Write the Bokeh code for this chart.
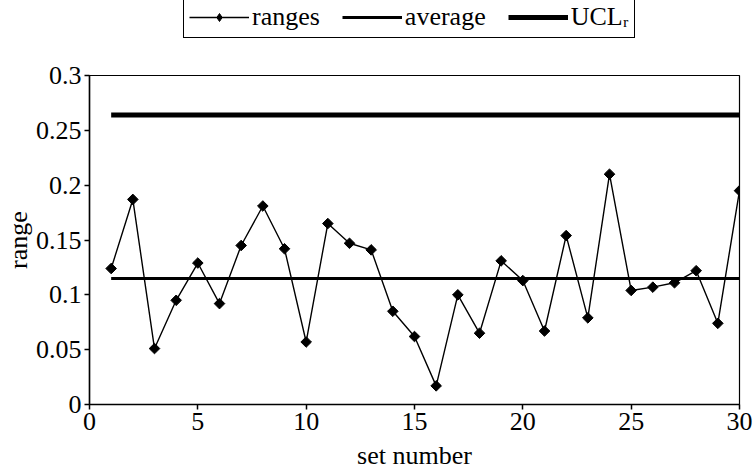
import math
from bokeh.plotting import figure
from bokeh.models import Legend, LegendItem, Range1d, FixedTicker
from bokeh.layouts import column
from bokeh.embed import file_html
from bokeh.resources import INLINE

set_number = list(range(1, 31))
ranges = [0.124, 0.187, 0.051, 0.095, 0.129, 0.092, 0.145, 0.181, 0.142, 0.057,
          0.165, 0.147, 0.141, 0.085, 0.062, 0.017, 0.100, 0.065, 0.131, 0.113,
          0.067, 0.154, 0.079, 0.210, 0.104, 0.107, 0.111, 0.122, 0.074, 0.195]
average = 0.115
ucl_r = 0.264
x_ticks = [0, 5, 10, 15, 20, 25, 30]
y_ticks = [0, 0.05, 0.1, 0.15, 0.2, 0.25, 0.3]
y_labels = {0: "0", 0.05: "0.05", 0.1: "0.1", 0.15: "0.15", 0.2: "0.2", 0.25: "0.25", 0.3: "0.3"}
legend_labels = ["ranges", "average", "UCLᵣ"]

FONT = "Liberation Serif"
LEG_H = 44

# ---- legend strip (separate figure above the chart; its series lie outside its view) ----
lf = figure(width=753, height=LEG_H, output_backend="svg", toolbar_location=None,
            x_range=Range1d(100, 101), y_range=Range1d(100, 101),
            min_border_left=89, min_border_right=14, min_border_top=0, min_border_bottom=0)
lf.axis.visible = False
lf.grid.visible = False
lf.outline_line_color = None
l_r1 = lf.line(set_number, ranges, line_color="black", line_width=1.4)
l_r2 = lf.scatter(set_number, ranges, marker="diamond", size=10, fill_color="black", line_color="black")
l_avg = lf.line([set_number[0], set_number[-1]], [average, average], line_color="black", line_width=3)
l_ucl = lf.line([set_number[0], set_number[-1]], [ucl_r, ucl_r], line_color="black", line_width=5)

legend = Legend(items=[
    LegendItem(label=legend_labels[0], renderers=[l_r1, l_r2]),
    LegendItem(label=legend_labels[1], renderers=[l_avg]),
    LegendItem(label=legend_labels[2], renderers=[l_ucl]),
], orientation="horizontal", location=(183 - 89, LEG_H - 38))
legend.label_text_font = FONT
legend.label_text_font_size = "26px"
legend.label_text_color = "black"
legend.glyph_width = 60
legend.glyph_height = 20
legend.label_standoff = 3
legend.spacing = 22
legend.padding = 5
legend.margin = 0
legend.border_line_color = "black"
legend.border_line_width = 1.2
legend.border_line_alpha = 1
legend.background_fill_color = "white"
lf.add_layout(legend, "center")

# ---- main chart ----
p = figure(width=753, height=473 - LEG_H, output_backend="svg", toolbar_location=None,
           x_range=Range1d(0, 30), y_range=Range1d(0, 0.3),
           min_border_left=89, min_border_right=14, min_border_top=75 - LEG_H, min_border_bottom=69)
p.xgrid.visible = False
p.ygrid.visible = False
p.outline_line_color = "black"
p.outline_line_width = 1.2
p.outline_line_alpha = 1

p.line([set_number[0], set_number[-1]], [average, average], line_color="black", line_width=3)
p.line([set_number[0], set_number[-1]], [ucl_r, ucl_r], line_color="black", line_width=5)
p.line(set_number, ranges, line_color="black", line_width=1.4)
p.scatter(set_number, ranges, marker="square", size=7.5, angle=math.pi / 4,
          fill_color="black", line_color="black")

for ax in (p.xaxis[0], p.yaxis[0]):
    ax.axis_line_width = 1.5
    ax.major_tick_line_width = 1.5
    ax.major_tick_out = 5
    ax.major_tick_in = 0
    ax.minor_tick_line_color = None
    ax.major_label_text_font = FONT
    ax.major_label_text_font_size = "26px"
    ax.major_label_text_color = "black"
    ax.axis_label_text_font = FONT
    ax.axis_label_text_font_size = "26px"
    ax.axis_label_text_font_style = "normal"
    ax.axis_label_text_color = "black"

p.xaxis.ticker = FixedTicker(ticks=x_ticks)
p.yaxis.ticker = FixedTicker(ticks=y_ticks)
p.yaxis.major_label_overrides = y_labels
p.xaxis.axis_label = "set number"
p.yaxis.axis_label = "range"
p.xaxis.major_label_standoff = 3
p.xaxis.axis_label_standoff = 8
p.yaxis.major_label_standoff = 3
p.yaxis.axis_label_standoff = 0

layout = column(lf, p, spacing=0)
open("out.html", "w").write(file_html(layout, INLINE))
